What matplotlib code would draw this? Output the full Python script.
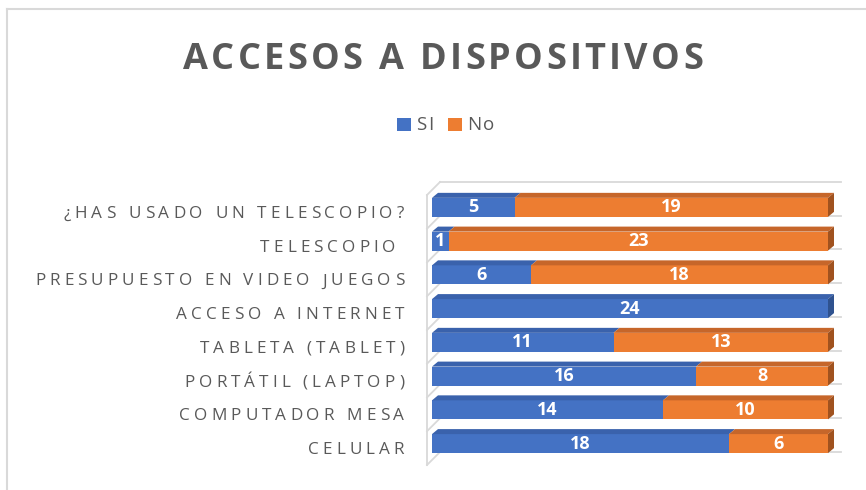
import matplotlib
matplotlib.use('Agg')
import matplotlib.pyplot as plt
from matplotlib.patches import Polygon, Rectangle
from matplotlib.lines import Line2D
from matplotlib import font_manager
from matplotlib.ft2font import FT2Font

# data (bottom row first)
categories = ['CELULAR', 'COMPUTADOR MESA', 'PORTÁTIL (LAPTOP)', 'TABLETA (TABLET)',
              'ACCESO A INTERNET', 'PRESUPUESTO EN VIDEO JUEGOS', 'TELESCOPIO ',
              '¿HAS USADO UN TELESCOPIO?']
si = [18, 14, 16, 11, 24, 6, 1, 5]
no = [6, 10, 8, 13, 0, 18, 23, 19]
series_names = ['SI', 'No']
title = 'ACCESOS A DISPOSITIVOS'

W, H, DPI = 866, 490, 100
GREY = '#595959'
LINE = '#D9D9D9'
FAMILY = 'Open Sans'

front_colors = ['#4472C4', '#ED7D31']
top_colors = ['#3A62AC', '#C6662A']
side_colors = ['#2F528F', '#A0521F']


def advances(text, weight, size):
    path = font_manager.findfont(font_manager.FontProperties(family=FAMILY, weight=weight))
    ft = FT2Font(path)
    ft.set_size(size, DPI)
    return [ft.load_char(ord(c)).linearHoriAdvance / 65536 for c in text]


def spaced_text(fig, s, x_px, y_px, ha='left', weight='normal', size=12,
                color=GREY, spacing=None, width=None):
    adv = advances(s, weight, size)
    if width is not None:
        spacing = (width - sum(adv)) / (len(s) - 1)
    total = sum(adv) + spacing * (len(s) - 1)
    if ha == 'right':
        pos = x_px - total
    elif ha == 'center':
        pos = x_px - total / 2
    else:
        pos = x_px
    for c, a in zip(s, adv):
        if c != ' ':
            fig.text(pos / W, 1 - y_px / H, c, ha='left', va='baseline',
                     fontsize=size, fontweight=weight, color=color, family=FAMILY)
        pos += a + spacing
    return spacing


fig = plt.figure(figsize=(W / DPI, H / DPI), dpi=DPI)

# pixel mapping of the plot area
X0, SX = 427.0, 16.5
Y0, SY = 448.1, 33.75
xlim = (-0.6, 25.6)
ylim = (-0.75, 8.1)
left = (X0 + SX * xlim[0]) / W
right = (X0 + SX * xlim[1]) / W
bot_px = Y0 - SY * ylim[0]
top_px = Y0 - SY * ylim[1]
ax = fig.add_axes([left, 1 - bot_px / H, right - left, (bot_px - top_px) / H])
ax.set_xlim(xlim)
ax.set_ylim(ylim)
ax.axis('off')

WALL_DX, WALL_DY = 13 / SX, 13 / SY
BAR_OX, BAR_OY = 5 / SX, 4.5 / SY
BAR_DX, BAR_DY = 6 / SX, 5 / SY
HALF_H = 9.5 / SY
xmax = 24

# wall and gridlines
n = len(categories)
bounds = [k - 0.5 for k in range(n + 1)]
ax.plot([0, 0], [bounds[0], bounds[-1]], color=LINE, lw=1.3, zorder=1)
for b in bounds:
    ax.plot([0, WALL_DX], [b, b + WALL_DY], color=LINE, lw=1.3, zorder=1)
    ax.plot([WALL_DX, BAR_OX + xmax + WALL_DX], [b + WALL_DY] * 2, color=LINE, lw=1.3, zorder=1)

# 3d stacked bars
for i in range(n):
    vals = [si[i], no[i]]
    start = 0
    last = max(k for k, v in enumerate(vals) if v > 0)
    for k, v in enumerate(vals):
        if v == 0:
            continue
        x0 = BAR_OX + start
        x1 = x0 + v
        yb = i + BAR_OY - HALF_H
        yt = i + BAR_OY + HALF_H
        ax.add_patch(Rectangle((x0, yb), v, yt - yb, facecolor=front_colors[k],
                               edgecolor='none', zorder=3))
        ax.add_patch(Polygon([(x0, yt), (x1, yt), (x1 + BAR_DX, yt + BAR_DY),
                              (x0 + BAR_DX, yt + BAR_DY)], closed=True,
                             facecolor=top_colors[k], edgecolor='none', zorder=3))
        if k == last:
            ax.add_patch(Polygon([(x1, yb), (x1, yt), (x1 + BAR_DX, yt + BAR_DY),
                                  (x1 + BAR_DX, yb + BAR_DY)], closed=True,
                                 facecolor=side_colors[k], edgecolor='none', zorder=3))
        ax.text(x0 + v / 2, i + BAR_OY, str(v), ha='center', va='center',
                color='white', fontsize=13, fontweight='bold', family=FAMILY, zorder=4)
        start += v

# category labels with letter spacing
longest = max(categories, key=len)
adv_long = advances(longest, 'normal', 12.3)
sp = (369 - sum(adv_long)) / (len(longest) - 1)
for i, lab in enumerate(categories):
    y_px = H - ax.transData.transform((0, i))[1]
    spaced_text(fig, lab, 404, y_px + 6, ha='right', size=12.3, spacing=sp)

# title
spaced_text(fig, title, 443, 69, ha='center', weight='bold', size=26, width=520)

# legend
for k, (name, x_sq, x_txt) in enumerate(zip(series_names, [397, 448], [416, 467])):
    fig.add_artist(Rectangle((x_sq / W, 1 - 131 / H), 14 / W, 13 / H,
                             transform=fig.transFigure, facecolor=front_colors[k],
                             edgecolor='none'))
    spaced_text(fig, name, x_txt, 130, size=13.5, spacing=1.5)

# chart border
fig.add_artist(Line2D([7 / W, 7 / W], [0, 1 - 9 / H], color=LINE, lw=1.5))
fig.add_artist(Line2D([7 / W, 1], [1 - 9 / H, 1 - 9 / H], color=LINE, lw=1.5))

fig.savefig('out.png', dpi=DPI)
